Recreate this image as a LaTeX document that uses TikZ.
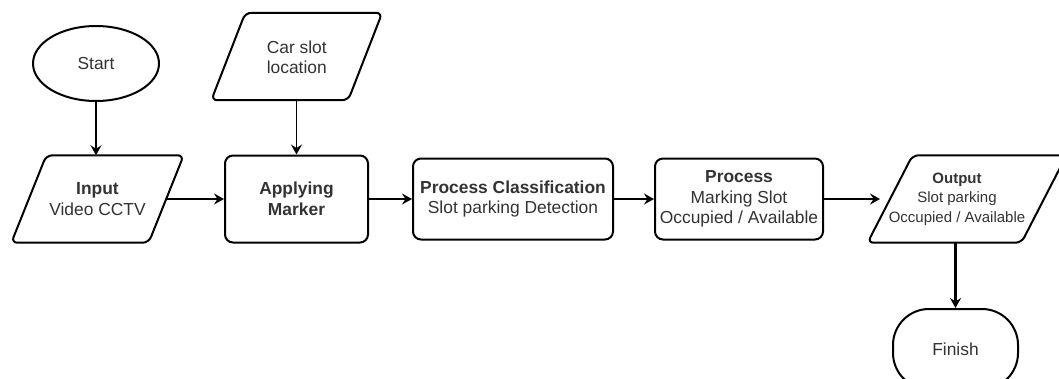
\documentclass[tikz,border=0pt]{standalone}
\usepackage{fontspec}
\setmainfont{Liberation Sans}
\usetikzlibrary{arrows.meta,shapes.geometric}
\tikzset{
  txt/.style={text=black!80, align=center, font=\fontsize{17.4}{20.5}\selectfont, inner sep=0pt},
  box/.style={txt, draw=black, line width=2pt, rounded corners=8pt, minimum height=84pt},
  para/.style={txt, minimum height=87pt},
  pshape/.style={draw=black, line width=2pt, rounded corners=6pt, line join=round},
  arr/.style={line width=1.9pt, -{Stealth[length=10pt,width=11pt,inset=3.5pt]}},
  tarr/.style={line width=2.8pt, -{Stealth[length=10pt,width=11pt,inset=3.5pt]}},
}
\begin{document}
\begin{tikzpicture}[x=1pt,y=-1pt]
\useasboundingbox (0,0) rectangle (1059,378);
\clip (0,0) rectangle (1059,378);
\fill[white] (0,0) rectangle (1059,378);

% Start
\node[txt, draw=black, line width=2pt, ellipse, minimum width=126pt, minimum height=75pt] (start) at (96,63.5) {Start};

% Car slot location
\node[para, minimum width=136.5pt] (car) at (296.75,57.5) {Car slot\\location};
\draw[pshape] ([xshift=17pt,yshift=1pt]car.north west) -- ([xshift=17pt,yshift=1pt]car.north east) -- ([xshift=-17pt,yshift=1pt]car.south east) -- ([xshift=-17pt,yshift=1pt]car.south west) -- cycle;

% Input
\node[para, minimum width=137pt] (input) at (97.5,199) {\textbf{Input}\\Video CCTV};
\draw[pshape] ([xshift=17.5pt]input.north west) -- ([xshift=17.5pt]input.north east) -- ([xshift=-17.5pt]input.south east) -- ([xshift=-17.5pt]input.south west) -- cycle;

% Applying Marker
\node[box, minimum width=143pt, minimum height=87pt] (apply) at (296.5,199) {\textbf{Applying}\\\textbf{Marker}};

% Process Classification
\node[box, minimum width=200pt, minimum height=81pt] (classif) at (513,199) {\textbf{Process Classification}\\Slot parking Detection};

% Process Marking
\node[box, minimum width=168pt, minimum height=81pt] (marking) at (739,199) {\textbf{Process}\\Marking Slot\\Occupied / Available};

% Output
\node[para, minimum width=153.5pt, font=\fontsize{15}{19.5}\selectfont] (output) at (957,199) {\textbf{Output}\\Slot parking\\Occupied / Available};
\draw[pshape] ([xshift=32.5pt]output.north west) -- ([xshift=32.5pt]output.north east) -- ([xshift=-12.5pt]output.south east) -- ([xshift=-12.5pt]output.south west) -- cycle;

% Finish
\node[txt, draw=black, line width=2pt, rounded corners=36pt, minimum width=125pt, minimum height=80pt] (finish) at (955.5,349) {Finish};

% connectors
\draw[arr] (start.south) -- (start.south |- input.north);
\draw[arr] (car.south -| apply.north) -- (apply.north);
\draw[arr] (input.east) -- (apply.west);
\draw[arr] (apply.east) -- (classif.west);
\draw[arr] (classif.east) -- (marking.west);
\draw[tarr] (marking.east) -- (output.west);
\draw[tarr] (output.south -| finish.north) -- (finish.north);
\end{tikzpicture}
\end{document}
